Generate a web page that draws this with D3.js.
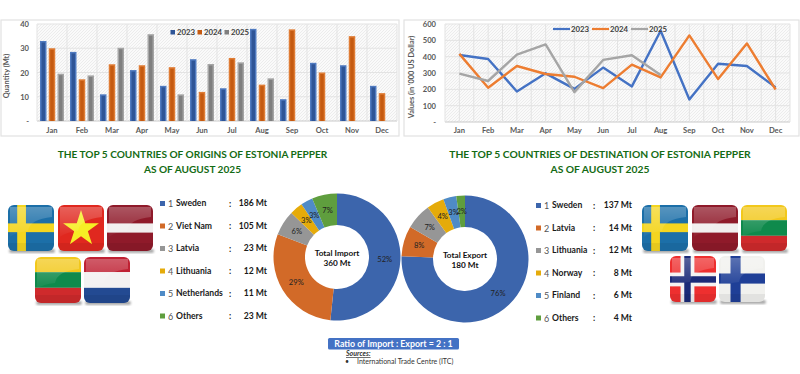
<!DOCTYPE html>
<html>
<head>
<meta charset="utf-8">
<script src="https://cdn.jsdelivr.net/npm/d3@7"></script>
<style>
html, body { margin: 0; padding: 0; background: #fff; }
svg { display: block; font-family: Lato, "Open Sans", sans-serif; }
</style>
</head>
<body>
<script>
const width = 800, height = 374;

const months = ["Jan", "Feb", "Mar", "Apr", "May", "Jun", "Jul", "Aug", "Sep", "Oct", "Nov", "Dec"];
const years = ["2023", "2024", "2025"];

// Quantity (Mt)
const qty2023 = [33, 28.5, 11, 21, 14.5, 25.5, 13.5, 38, 9, 24, 23, 14.5];
const qty2024 = [30, 17.2, 23.4, 23, 22.2, 12, 26, 15, 37.8, 20, 35, 11.5];
const qty2025 = [19.5, 18.8, 30.2, 35.8, 11, 23.5, 24.2, 17.6, null, null, null, null];

// Values ('000 US Dollar)
const val2023 = [410, 386, 187, 298, 203, 333, 218, 559, 138, 357, 343, 212];
const val2024 = [417, 210, 343, 294, 277, 207, 351, 273, 530, 263, 481, 199];
const val2025 = [296, 251, 413, 475, 183, 380, 409, 288, null, null, null, null];

const qtyTicks = [0, 10, 20, 30, 40];
const valTicks = [0, 100, 200, 300, 400, 500, 600];

const importNames = ["Sweden", "Viet Nam", "Latvia", "Lithuania", "Netherlands", "Others"];
const importMt = [186, 105, 23, 12, 11, 23];
const importPct = [52, 29, 6, 3, 3, 7];
const exportNames = ["Sweden", "Latvia", "Lithuania", "Norway", "Finland", "Others"];
const exportMt = [137, 14, 12, 8, 6, 4];
const exportPct = [76, 8, 7, 4, 3, 2];

const barColors = ["#2f5597", "#c55a11", "#7f7f7f"];
const barEdges = ["#4f7ac0", "#e07d35", "#a5a5a5"];
const lineColors = ["#4472c4", "#ed7d31", "#a5a5a5"];
const pieColors = ["#3c65ac", "#d26a28", "#969696", "#e5ab0a", "#4f8bc6", "#5f9e3e"];

const svg = d3.select("body").append("svg").attr("width", width).attr("height", height);
const defs = svg.append("defs");

// the dotted/hatched plot background
const hatch = defs.append("pattern").attr("id", "hatch")
    .attr("width", 3).attr("height", 3)
    .attr("patternUnits", "userSpaceOnUse");
hatch.append("rect").attr("width", 3).attr("height", 3).attr("fill", "#fafafa");
hatch.append("path").attr("d", "M0,3L3,0").attr("stroke", "#e8e8e8").attr("stroke-width", 0.8);

// frames
function frame(x, y, w, h) {
    svg.append("rect").attr("x", x).attr("y", y).attr("width", w).attr("height", h)
        .attr("fill", "#fff").attr("stroke", "#e2e2e2").attr("stroke-width", 1.2);
}

function yAxisLabels(g, y, ticks, x) {
    g.selectAll(".tick-label").data(ticks).enter().append("text")
        .attr("x", x).attr("y", d => y(d) + 3)
        .attr("text-anchor", "end")
        .attr("font-size", 7.6).attr("font-weight", 700).attr("fill", "#595959")
        .text(d => d === 0 ? "-" : d);
}

function gridAndMonths(x, y, ticks, left, right, labelY, verticals) {
    svg.append("rect").attr("x", left).attr("y", y.range()[1])
        .attr("width", right - left).attr("height", y.range()[0] - y.range()[1])
        .attr("fill", "url(#hatch)");
    svg.selectAll(null).data(ticks).enter().append("line")
        .attr("x1", left).attr("x2", right)
        .attr("y1", d => y(d)).attr("y2", d => y(d))
        .attr("stroke", d => d === 0 ? "#c9c9c9" : "#e3e3e3").attr("stroke-width", 1);
    svg.selectAll(null).data(verticals).enter().append("line")
        .attr("x1", d => d).attr("x2", d => d)
        .attr("y1", y.range()[0]).attr("y2", y.range()[1])
        .attr("stroke", "#e3e3e3").attr("stroke-width", 1);
    svg.selectAll(null).data(months).enter().append("text")
        .attr("x", d => x(d) + x.bandwidth() / 2).attr("y", labelY)
        .attr("text-anchor", "middle")
        .attr("font-size", 7.6).attr("font-weight", 700).attr("fill", "#595959")
        .text(d => d);
}

// ---- bars ----
frame(1, 20, 398, 116);
const xBar = d3.scaleBand().domain(months).range([37, 397]);
const xYear = d3.scaleBand().domain(years).range([3, 27]).paddingInner(0.26);
const yBar = d3.scaleLinear().domain([0, 40]).range([121, 24]);
gridAndMonths(xBar, yBar, qtyTicks, 37, 397, 133, months.map(m => xBar(m)).concat(397));
yAxisLabels(svg, yBar, qtyTicks, 29);
svg.append("text").attr("transform", "translate(9,76) rotate(-90)")
    .attr("text-anchor", "middle").attr("font-size", 7.4).attr("font-weight", 700).attr("fill", "#595959")
    .text("Quantity (Mt)");

[qty2023, qty2024, qty2025].forEach((series, s) => {
    const bars = svg.append("g").selectAll("g")
        .data(months.map((m, i) => ({ m, v: series[i] })).filter(d => d.v !== null))
        .enter().append("g")
        .attr("transform", d => `translate(${xBar(d.m) + xYear(years[s])},0)`);
    const bw = xYear.bandwidth();
    bars.append("rect").attr("y", d => yBar(d.v)).attr("width", bw)
        .attr("height", d => yBar(0) - yBar(d.v)).attr("fill", barEdges[s]);
    bars.append("rect").attr("x", 1.5).attr("y", d => yBar(d.v) + 1.5).attr("width", bw - 3)
        .attr("height", d => yBar(0) - yBar(d.v) - 1.5).attr("fill", barColors[s]);
});

const barLegend = svg.append("g").selectAll("g").data(years).enter().append("g")
    .attr("transform", (d, i) => `translate(${170.5 + i * 27},32)`);
barLegend.append("rect").attr("y", -2).attr("width", 4.5).attr("height", 4.5).attr("fill", (d, i) => barColors[i]);
barLegend.append("text").attr("x", 6.5).attr("y", 2.8)
    .attr("font-size", 7.8).attr("fill", "#404040").attr("font-weight", 700).text(d => d);

// ---- lines ----
frame(404, 20, 395, 116);
const xLine = d3.scaleBand().domain(months).range([445, 790]);
const yLine = d3.scaleLinear().domain([0, 600]).range([122, 24]);
// this plot has a gridline at each band edge and at each band centre
const lineVerticals = months.flatMap(m => [xLine(m), xLine(m) + xLine.bandwidth() / 2]).concat(790);
gridAndMonths(xLine, yLine, valTicks, 445, 790, 133, lineVerticals);
yAxisLabels(svg, yLine, valTicks, 436);
svg.append("text").attr("transform", "translate(414,77) rotate(-90)")
    .attr("text-anchor", "middle").attr("font-size", 7.4).attr("font-weight", 700).attr("fill", "#595959")
    .text("Values (in '000 US Dollar)");

const line = d3.line()
    .defined(d => d.v !== null)
    .x(d => xLine(d.m) + xLine.bandwidth() / 2)
    .y(d => yLine(d.v));
[val2023, val2024, val2025].forEach((series, s) => {
    svg.append("path")
        .datum(months.map((m, i) => ({ m, v: series[i] })))
        .attr("d", line).attr("fill", "none")
        .attr("stroke", lineColors[s]).attr("stroke-width", 2.4)
        .attr("stroke-linejoin", "round");
});

const lineLegend = svg.append("g").selectAll("g").data(years).enter().append("g")
    .attr("transform", (d, i) => `translate(${553 + i * 39},29)`);
lineLegend.append("line").attr("x2", 17).attr("stroke", (d, i) => lineColors[i]).attr("stroke-width", 2.2);
lineLegend.append("text").attr("x", 18).attr("y", 2.8)
    .attr("font-size", 7.8).attr("fill", "#404040").attr("font-weight", 700).text(d => d);

// ---- titles ----
function title(cx, size, lines) {
    svg.append("g").selectAll("text").data(lines).enter().append("text")
        .attr("x", cx).attr("y", (d, i) => 158 + i * 15)
        .attr("text-anchor", "middle")
        .attr("font-size", size).attr("font-weight", 700).attr("fill", "#146b14")
        .text(d => d);
}
title(192.5, 10.1, ["THE TOP 5 COUNTRIES OF ORIGINS OF ESTONIA PEPPER", "AS OF AUGUST 2025"]);
title(600, 10.3, ["THE TOP 5 COUNTRIES OF DESTINATION OF ESTONIA PEPPER", "AS OF AUGUST 2025"]);

// ---- donuts ----
function donut(cx, cy, values, pct, label1, label2) {
    const g = svg.append("g").attr("transform", `translate(${cx},${cy})`);
    const pie = d3.pie().sort(null)(values);
    const arc = d3.arc().innerRadius(32).outerRadius(63.5);
    g.selectAll("path").data(pie).enter().append("path")
        .attr("d", arc).attr("fill", (d, i) => pieColors[i]);
    g.selectAll(".pct").data(pie).enter().append("text")
        .attr("transform", d => `translate(${arc.centroid(d)})`)
        .attr("text-anchor", "middle").attr("dy", "0.35em")
        .attr("font-size", 7.6).attr("fill", "#222")
        .text((d, i) => pct[i] + "%");
    g.selectAll(".centre").data([label1, label2]).enter().append("text")
        .attr("y", (d, i) => -1 + i * 10)
        .attr("text-anchor", "middle")
        .attr("font-size", 8.2).attr("font-weight", 700).attr("fill", "#111")
        .text(d => d);
}
donut(337, 257, importMt, importPct, "Total Import", "360 Mt");
donut(465, 259, exportMt, exportPct, "Total Export", "180 Mt");

// ---- country lists ----
function countryList(x0, y0, colonX, valueX, names, values) {
    const rows = svg.append("g").selectAll("g").data(names).enter().append("g")
        .attr("transform", (d, i) => `translate(${x0},${y0 + i * 22.5})`);
    rows.append("rect").attr("y", -2).attr("width", 5).attr("height", 5).attr("fill", (d, i) => pieColors[i]);
    rows.append("text").attr("x", 8).attr("y", 4.2).attr("font-size", 9).attr("fill", "#555").text((d, i) => i + 1);
    rows.append("text").attr("x", 16).attr("y", 3).attr("font-size", 8.6).attr("font-weight", 700).attr("fill", "#1a1a1a").text(d => d);
    rows.append("text").attr("x", colonX - x0).attr("y", 3.6).attr("font-size", 8.6).attr("font-weight", 700).attr("fill", "#1a1a1a").text(":");
    rows.append("text").attr("x", valueX - x0).attr("y", 3).attr("text-anchor", "end")
        .attr("font-size", 8.6).attr("font-weight", 700).attr("fill", "#1a1a1a").text((d, i) => values[i] + " Mt");
}
countryList(160, 203, 229, 267, importNames, importMt);
countryList(536, 205, 593, 632, exportNames, exportMt);

// ---- flags ----
const gloss = defs.append("linearGradient").attr("id", "gloss").attr("x1", 0).attr("y1", 0).attr("x2", 0).attr("y2", 1);
gloss.append("stop").attr("offset", 0).attr("stop-color", "#fff").attr("stop-opacity", 0.26);
gloss.append("stop").attr("offset", 1).attr("stop-color", "#fff").attr("stop-opacity", 0.02);
const blur = defs.append("filter").attr("id", "soft").attr("x", "-20%").attr("y", "-20%").attr("width", "140%").attr("height", "140%");
blur.append("feGaussianBlur").attr("stdDeviation", 1.2);

const flagDefs = {
    sweden: g => { rect(g, 0, 0, 1, 1, "#1c6fa8"); rect(g, 0.2, 0, 0.19, 1, "#f4d520"); rect(g, 0, 0.4, 1, 0.19, "#f4d520"); },
    vietnam: g => { rect(g, 0, 0, 1, 1, "#e0281f");
        g.append("path").attr("d", d3.symbol().type(d3.symbolStar).size(400)())
            .attr("transform", "translate(23,24)").attr("fill", "#f6ee25"); },
    latvia: g => { rect(g, 0, 0, 1, 1, "#8f1a2a"); rect(g, 0, 0.4, 1, 0.2, "#f1eeee"); },
    lithuania: g => { rect(g, 0, 0, 1, 0.33, "#f2c81b"); rect(g, 0, 0.33, 1, 0.34, "#0f8a4c"); rect(g, 0, 0.67, 1, 0.33, "#cf2a2c"); },
    netherlands: g => { rect(g, 0, 0, 1, 0.33, "#bf2133"); rect(g, 0, 0.33, 1, 0.34, "#f3f1f1"); rect(g, 0, 0.67, 1, 0.33, "#234a92"); },
    norway: g => { rect(g, 0, 0, 1, 1, "#ee2f2f"); rect(g, 0.23, 0, 0.3, 1, "#f4f1f1"); rect(g, 0, 0.36, 1, 0.3, "#f4f1f1"); rect(g, 0.31, 0, 0.14, 1, "#1b2a78"); rect(g, 0, 0.44, 1, 0.14, "#1b2a78"); },
    finland: g => { rect(g, 0, 0, 1, 1, "#f1f1ee"); rect(g, 0.25, 0, 0.22, 1, "#1f3f97"); rect(g, 0, 0.38, 1, 0.22, "#1f3f97"); }
};
function rect(g, x, y, w, h, fill) {
    g.append("rect").attr("x", x * 46).attr("y", y * 46).attr("width", w * 46).attr("height", h * 46).attr("fill", fill);
}
let clipId = 0;
function flag(name, x, y) {
    const g = svg.append("g").attr("transform", `translate(${x},${y})`);
    g.append("rect").attr("x", 1).attr("y", 44).attr("width", 46).attr("height", 4).attr("rx", 2)
        .attr("fill", "#aaa").attr("filter", "url(#soft)");
    const id = "clip" + (clipId++);
    defs.append("clipPath").attr("id", id).append("rect").attr("width", 46).attr("height", 46).attr("rx", 6);
    const inner = g.append("g").attr("clip-path", `url(#${id})`);
    flagDefs[name](inner);
    inner.append("path").attr("d", "M2,2H44V12Q22,14 20,26Q8,27 2,32Z").attr("fill", "url(#gloss)");
    inner.append("path").attr("d", "M0,38H46V46H0Z").attr("fill", "#000").attr("opacity", 0.06);
}
flag("sweden", 8, 205);
flag("vietnam", 58, 205);
flag("latvia", 107, 205);
flag("lithuania", 35, 257);
flag("netherlands", 84, 257);
flag("sweden", 642, 205);
flag("latvia", 692, 205);
flag("lithuania", 741, 205);
flag("norway", 670, 256);
flag("finland", 719, 256);

// ---- ratio + sources ----
svg.append("rect").attr("x", 328).attr("y", 338).attr("width", 131).attr("height", 11.5).attr("rx", 1.5).attr("fill", "#4472c4");
svg.append("text").attr("x", 393.5).attr("y", 346.8).attr("text-anchor", "middle")
    .attr("font-size", 8.8).attr("font-weight", 700).attr("fill", "#fff").text("Ratio of Import : Export = 2 : 1");
svg.append("text").attr("x", 346).attr("y", 356).attr("font-size", 7).attr("font-style", "italic")
    .attr("text-decoration", "underline").attr("font-weight", 700).attr("fill", "#333").text("Sources:");
svg.append("text").attr("x", 345).attr("y", 364).attr("font-size", 7).attr("fill", "#333").text("\u2022");
svg.append("text").attr("x", 357).attr("y", 364).attr("font-size", 7).attr("fill", "#333").text("International Trade Centre (ITC)");
</script>
</body>
</html>
